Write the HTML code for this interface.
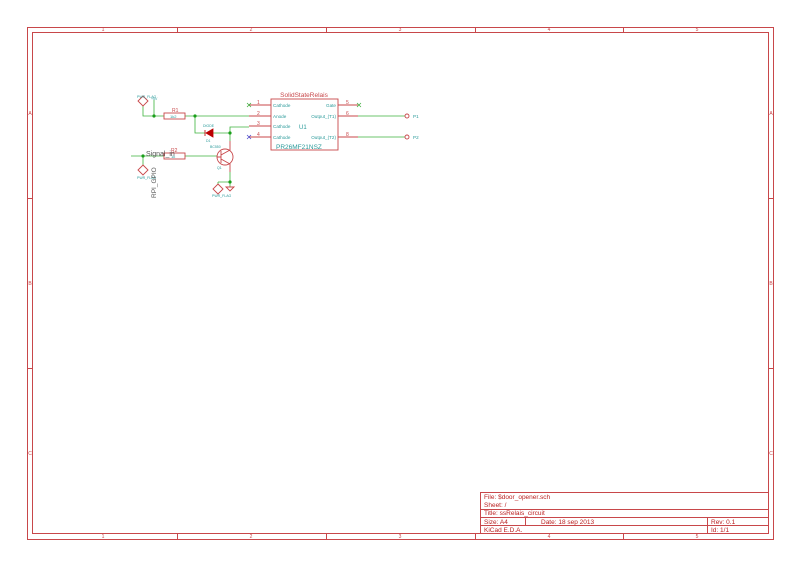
<!DOCTYPE html>
<html><head><style>
html,body{margin:0;padding:0;background:#fff}
svg{display:block}
text{font-family:"Liberation Sans",sans-serif}
</style></head><body>
<svg width="800" height="566" viewBox="0 0 800 566" xmlns="http://www.w3.org/2000/svg">
<g fill="none" stroke="#c8474a" stroke-width="1">
<rect x="27.5" y="27.5" width="746" height="512"/>
<rect x="32.5" y="32.5" width="736" height="501"/>
<path d="M177.5 27v6M326.5 27v6M475.5 27v6M623.5 27v6M177.5 533v6M326.5 533v6M475.5 533v6M623.5 533v6M27 198.5h6M27 368.5h6M768 198.5h6M768 368.5h6"/>
<rect x="480.5" y="492.5" width="288" height="41"/>
<path d="M480 509.5h288M480 517.5h288M480 525.5h288M525.5 517v9M707.5 517v17"/>
</g>
<g fill="#c8474a" font-size="5" text-anchor="middle">
<text x="103" y="31">1</text><text x="251" y="31">2</text><text x="400" y="31">3</text><text x="549" y="31">4</text><text x="697" y="31">5</text>
<text x="103" y="538">1</text><text x="251" y="538">2</text><text x="400" y="538">3</text><text x="549" y="538">4</text><text x="697" y="538">5</text>
<text x="30" y="115">A</text><text x="30" y="285">B</text><text x="30" y="455">C</text>
<text x="771" y="115">A</text><text x="771" y="285">B</text><text x="771" y="455">C</text>
</g>
<g fill="#b22" font-size="6.5">
<text x="484" y="499">File: $door_opener.sch</text>
<text x="484" y="507">Sheet: /</text>
<text x="484" y="515">Title: ssRelais_circuit</text>
<text x="484" y="524">Size: A4</text>
<text x="541" y="524">Date: 18 sep 2013</text>
<text x="711" y="524">Rev: 0.1</text>
<text x="484" y="532">KiCad E.D.A.</text>
<text x="711" y="532">Id: 1/1</text>
</g>
<g fill="none" stroke="#3cb43c" stroke-width="0.8">
<path d="M143 106v10h21M185 116h64M154 116v-16M195 116v17h10M213 133h17v-6h19M230 133v8"/>
<path d="M131 156h33M143 156v9M185 156h32"/>
<path d="M230 172v15M218 182h12M218 182v2"/>
<path d="M358 116h47M358 137h47"/>
</g>
<g fill="#1a9e1a">
<circle cx="154" cy="116" r="1.6"/><circle cx="195" cy="116" r="1.6"/><circle cx="230" cy="133" r="1.6"/>
<circle cx="143" cy="156" r="1.6"/><circle cx="230" cy="182" r="1.6"/>
</g>
<g fill="none" stroke="#c8474a" stroke-width="0.9">
<rect x="164" y="113" width="21" height="6"/>
<rect x="164" y="153" width="21" height="6"/>
<rect x="271" y="99" width="67" height="51"/>
<path d="M249 105h22M249 116h22M249 126h22M249 137h22M338 105h20M338 116h20M338 137h20"/>
<circle cx="225" cy="157" r="8"/>
<path d="M221 151v12M217 157h4M221 155l9-5v-9M221 159l9 5v8"/>
<path d="M143 96l5 5-5 5-5-5zM143 165l5 5-5 5-5-5zM218 184l5 5-5 5-5-5z"/>
<path d="M226 187h8l-4 4z"/>
<circle cx="407" cy="116" r="2"/><circle cx="407" cy="137" r="2"/>
</g>
<path d="M205 130v6M206 133l7-4v8z" fill="#b00" stroke="#b00" stroke-width="0.8"/>
<g stroke="#3a3" stroke-width="0.7"><path d="M247 103l4 4M251 103l-4 4M357 103l4 4M361 103l-4 4"/></g>
<g stroke="#44c" stroke-width="0.7"><path d="M247 135l4 4M251 135l-4 4"/></g>
<g fill="#c8474a" font-size="5">
<text x="304" y="97" font-size="6.5" text-anchor="middle">SolidStateRelais</text>
<text x="257" y="104">1</text><text x="257" y="115">2</text><text x="257" y="125">3</text><text x="257" y="136">4</text>
<text x="346" y="104">5</text><text x="346" y="115">6</text><text x="346" y="136">8</text>
<text x="172" y="112">R1</text><text x="171" y="152">R2</text>
</g>
<g fill="#2a9a9a" font-size="4.6">
<text x="273" y="107">Cathode</text><text x="273" y="118">Anode</text><text x="273" y="128">Cathode</text><text x="273" y="139">Cathode</text>
<g text-anchor="end"><text x="336" y="107">Gate</text><text x="336" y="118">Output_(T1)</text><text x="336" y="139">Output_(T2)</text></g>
<text x="299" y="129" font-size="6">U1</text>
<text x="276" y="149" font-size="6.5">PR26MF21NSZ</text>
<text x="413" y="118">P1</text><text x="413" y="139">P2</text>
<text x="170" y="118" font-size="4">1k2</text><text x="171" y="158" font-size="4">1k</text>
<text x="137" y="98" font-size="3.5">PWR_FLAG</text><text x="151" y="100" font-size="3.5">+5V</text>
<text x="137" y="179" font-size="3.5">PWR_FLAG</text><text x="212" y="197" font-size="3.5">PWR_FLAG</text>
<text x="203" y="127" font-size="3.5">DIODE</text><text x="206" y="142" font-size="3.5">D1</text>
<text x="210" y="148" font-size="3.5">BC550</text><text x="217" y="169" font-size="3.5">Q1</text>
</g>
<text x="146" y="156" font-size="7" fill="#555">Signal_in</text>
<text x="0" y="0" font-size="6.5" fill="#555" transform="translate(156,198) rotate(-90)">RPI_GPIO</text>
</svg>
</body></html>
